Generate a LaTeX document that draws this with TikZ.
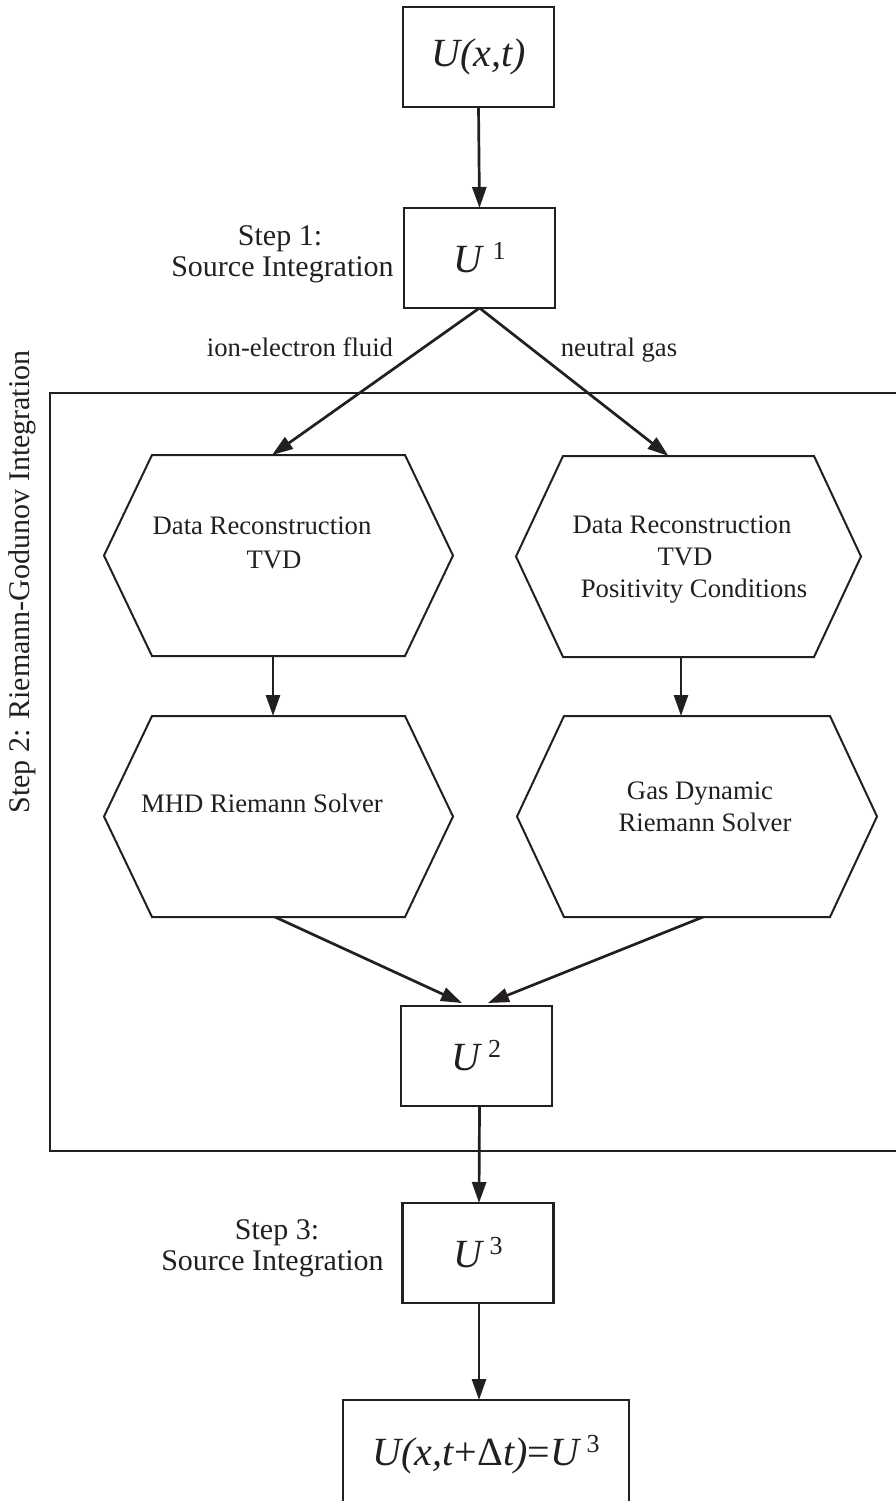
\documentclass[tikz,border=0pt]{standalone}
\usepackage{fontspec}
\setmainfont{Liberation Serif}
\usetikzlibrary{arrows.meta,calc}
\definecolor{ink}{RGB}{35,31,32}
\newcommand{\supnum}[1]{\raisebox{13pt}{\fontsize{26}{26}\selectfont #1}}
\begin{document}
\begin{tikzpicture}[x=1pt,y=-1pt,
  every node/.style={text=ink, inner sep=0pt, outer sep=0pt},
  box/.style={draw=ink, line width=2.2pt, minimum width=151pt, minimum height=100pt, font=\fontsize{40}{42}\selectfont},
  hexline/.style={draw=ink, line width=2pt, line join=miter},
  arr/.style={draw=ink, line width=2.7pt, -{Triangle[length=21pt,width=14pt]}},
  lbl/.style={font=\fontsize{26.7}{30}\selectfont, anchor=base},
  steplbl/.style={font=\fontsize{30}{31}\selectfont, anchor=base}
]
\useasboundingbox (0,0) rectangle (896,1501);
\clip (0,0) rectangle (896,1501);

% frame of step 2
\node[draw=ink, line width=2pt, minimum width=860pt, minimum height=758pt] (frame) at (480,772) {};
\node[font=\fontsize{30}{31}\selectfont, rotate=90] (s2) at (22,582) {Step 2: Riemann-Godunov Integration};

% boxes
\node[box] (top) at (478.5,57) {\textit{U(x,t)}};
\node[box] (u1) at (479.5,258) {\textit{U}\hspace{8pt}\supnum{1}};
\node[box] (u2) at (476.5,1056) {\textit{U}\hspace{5pt}\supnum{2}};
\node[box] (u3) at (478,1253) {\textit{U}\hspace{5pt}\supnum{3}};
\node[box, minimum width=286pt, minimum height=110pt] (fin) at (486,1455)
  {\textit{U(x,t}+\kern1pt Δ\textit{t)}=\textit{U}\hspace{5pt}\supnum{3}};

% hexagon bases
\node[minimum width=349pt, minimum height=201pt] (h1) at (278.5,555.5) {};
\node[minimum width=349pt, minimum height=201pt] (h2) at (278.5,816.5) {};
\node[minimum width=345pt, minimum height=201pt] (h3) at (688.5,556.5) {};
\node[minimum width=360pt, minimum height=201pt] (h4) at (697,816.5) {};
\foreach \h/\c in {h1/48,h2/48,h3/47,h4/47}{
  \draw[hexline] ([xshift=\c pt]\h.north west) -- ([xshift=-\c pt]\h.north east) -- (\h.east)
    -- ([xshift=-\c pt]\h.south east) -- ([xshift=\c pt]\h.south west) -- (\h.west) -- cycle;
}

% hexagon texts
\node[lbl] (t1a) at (262,534) {Data Reconstruction};
\node[lbl] (t1b) at (274,568) {TVD};
\node[lbl] (t2a) at (262,812) {MHD Riemann Solver};
\node[lbl] (t3a) at (682,533) {Data Reconstruction};
\node[lbl] (t3b) at (685,565) {TVD};
\node[lbl] (t3c) at (694,597) {Positivity Conditions};
\node[lbl] (t4a) at (700,799) {Gas Dynamic};
\node[lbl] (t4b) at (705,831) {Riemann Solver};

% branch labels
\node[lbl] (lion) at (300,356) {ion-electron fluid};
\node[lbl] (lneu) at (619,356) {neutral gas};

% step labels
\node[steplbl] (s1a) at (280,245) {Step 1:};
\node[steplbl] (s1b) at (282.5,276) {Source Integration};
\node[steplbl] (s3a) at (277,1239) {Step 3:};
\node[steplbl] (s3b) at (272.5,1270) {Source Integration};

% connectors
\draw[arr] (top.south) -- (u1.north);
\draw[arr] (u1.south) -- ([xshift=-6.5pt]h1.north);
\draw[arr] (u1.south) -- ([xshift=-20pt]h3.north);
\draw[arr] ([xshift=-5.5pt]h1.south) -- ([xshift=-5.5pt]h2.north);
\draw[arr] ([xshift=-7.5pt]h3.south) -- ([xshift=-7.5pt]h3.south |- h4.north);
\draw[arr] ([xshift=-3.5pt]h2.south) -- ([xshift=-14.5pt,yshift=3pt]u2.north);
\draw[arr] ([xshift=6pt]h4.south) -- ([xshift=11.5pt,yshift=3pt]u2.north);
\draw[arr] ([xshift=3pt]u2.south) -- ([xshift=1pt]u3.north);
\draw[arr] ([xshift=1pt]u3.south) -- ([xshift=1pt]u3.south |- fin.north);
\end{tikzpicture}
\end{document}
